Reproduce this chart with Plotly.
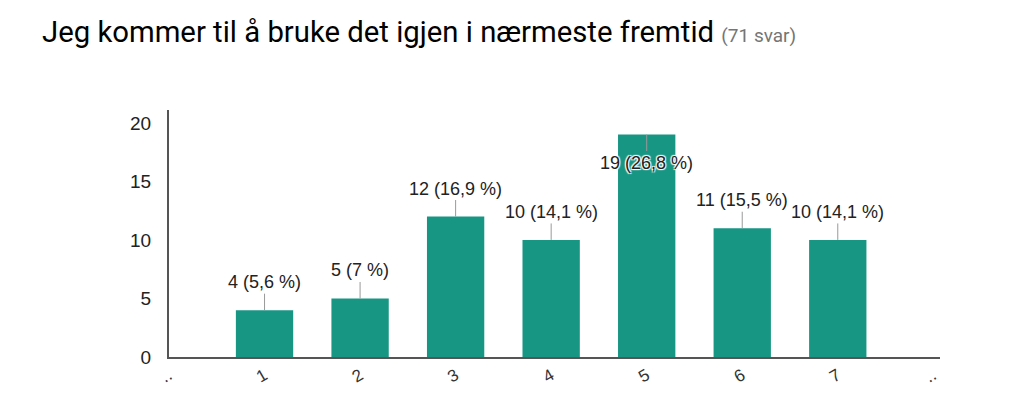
import plotly.graph_objects as go

title_text = "Jeg kommer til å bruke det igjen i nærmeste fremtid"
count_text = "(71 svar)"
categories = ["1", "2", "3", "4", "5", "6", "7"]
counts = [4, 5, 12, 10, 19, 11, 10]
percents = ["5,6 %", "7 %", "16,9 %", "14,1 %", "26,8 %", "15,5 %", "14,1 %"]
tick_labels = ["..", "1", "2", "3", "4", "5", "6", "7", ".."]

x_pos = list(range(1, len(categories) + 1))
bar_color = "#179684"

fig = go.Figure()
fig.add_trace(go.Bar(x=x_pos, y=counts, width=0.6, marker=dict(color=bar_color, line=dict(width=0)),
                     hoverinfo="skip"))

annotations = []
for xp, c, p in zip(x_pos, counts, percents):
    inside = c >= 19
    annotations.append(dict(
        x=xp, y=c, xref="x", yref="y",
        text=f"{c} ({p})",
        showarrow=True, arrowhead=0, arrowwidth=1, arrowcolor="#999999",
        ax=0, ay=28 if inside else -28,
        font=dict(family="Liberation Sans, Arial", size=18, color="#222222",
                  shadow="1px 1px 1px white, -1px -1px 1px white, 1px -1px 1px white, -1px 1px 1px white" if inside else "none"),
    ))

annotations.append(dict(
    xref="paper", yref="paper", x=-0.1673, y=1.316, xanchor="left", yanchor="middle",
    text=f"{title_text} <span style='font-size:19px;color:#757575'>{count_text}</span>",
    showarrow=False, font=dict(family="Roboto, Arial", size=29.3, color="#000000"),
))

fig.update_layout(
    width=1015, height=399,
    margin=dict(l=161, r=83, t=102, b=50),
    paper_bgcolor="white", plot_bgcolor="white",
    showlegend=False,
    annotations=annotations,
    bargap=0.4,
    xaxis=dict(range=[0, 8.07], tickmode="array", tickvals=list(range(len(tick_labels))),
               ticktext=tick_labels, tickangle=-30, showgrid=False, zeroline=False,
               showline=True, linecolor="#555555", linewidth=2, ticks="",
               tickfont=dict(family="Liberation Sans, Arial", size=17, color="#333333"),
               fixedrange=True),
    yaxis=dict(range=[0, 21.1], tickvals=[0, 5, 10, 15, 20], showgrid=False, zeroline=False,
               showline=True, linecolor="#555555", linewidth=2, ticks="",
               ticklabelstandoff=12,
               tickfont=dict(family="Liberation Sans, Arial", size=19, color="#222222"),
               fixedrange=True),
)

fig.write_html("out.html")
